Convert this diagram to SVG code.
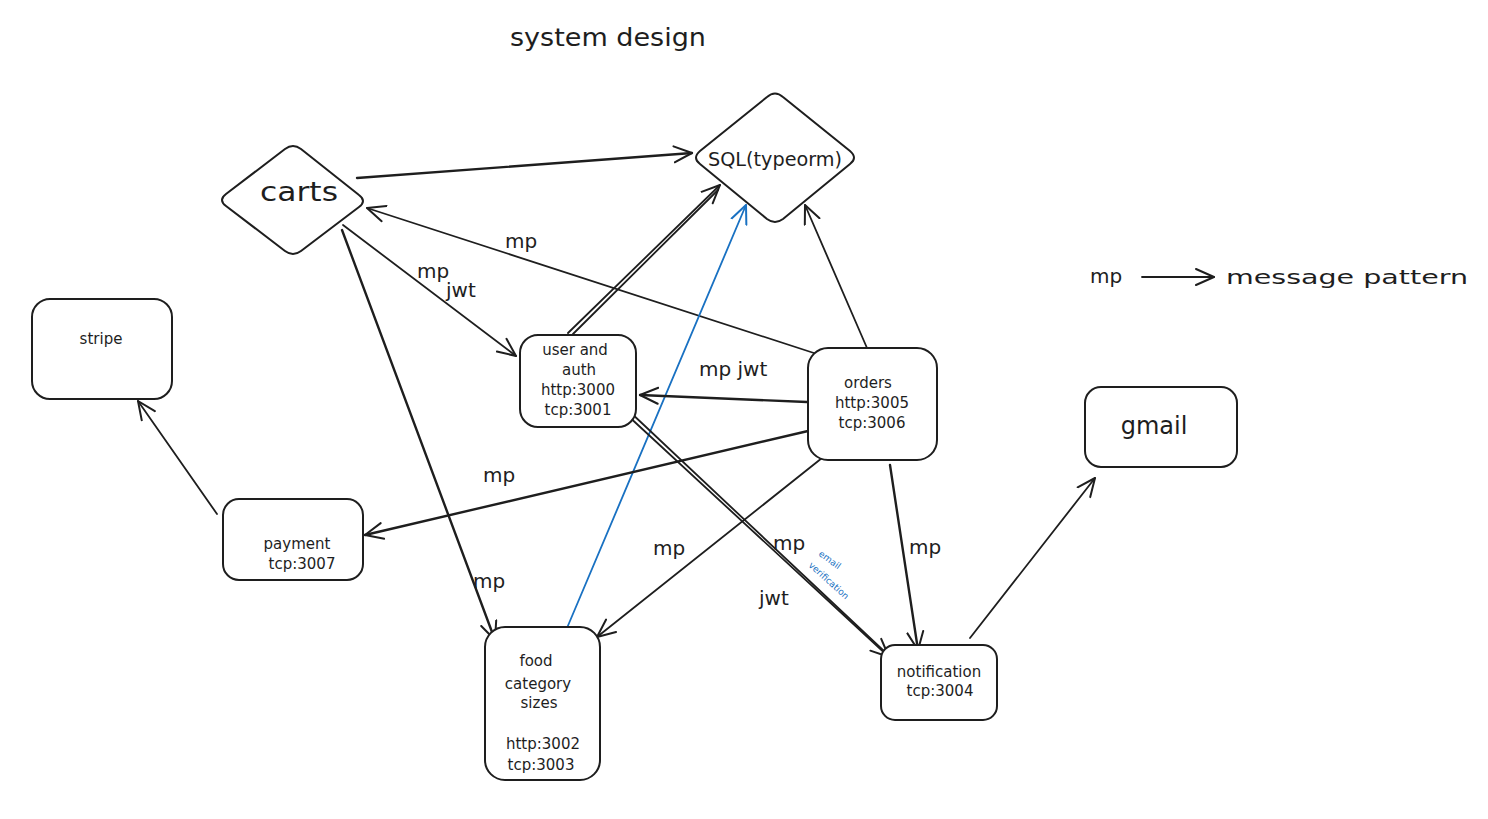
<svg xmlns="http://www.w3.org/2000/svg" width="1488" height="819" viewBox="0 0 1488 819">
<style>
  .box { fill: #ffffff; stroke: #1e1e1e; stroke-width: 2; }
  .t { font-family: "DejaVu Sans", "Noto Sans", sans-serif; fill: #1e1e1e; text-anchor: middle; }
  .n { font-size: 15px; }
  .lbl { font-family: "DejaVu Sans", "Noto Sans", sans-serif; fill: #1e1e1e; font-size: 20px; }
  .c { stroke: #1e1e1e; stroke-width: 1.8; fill: none; stroke-linecap: round; }
  .thick { stroke-width: 2.4; }
  .blue { stroke: #1971c2; }
  .note { font-family: "DejaVu Sans", "Noto Sans", sans-serif; font-size: 9px; fill: #1971c2; }
</style>
<defs>
  <marker id="ah" viewBox="0 0 20 20" refX="19" refY="10" markerWidth="20" markerHeight="20" markerUnits="userSpaceOnUse" orient="auto">
    <path d="M1,2 L19,10 L1,18" fill="none" stroke="#1e1e1e" stroke-width="2" stroke-linecap="round" stroke-linejoin="round"/>
  </marker>
  <marker id="ahb" viewBox="0 0 20 20" refX="19" refY="10" markerWidth="20" markerHeight="20" markerUnits="userSpaceOnUse" orient="auto">
    <path d="M1,2 L19,10 L1,18" fill="none" stroke="#1971c2" stroke-width="2" stroke-linecap="round" stroke-linejoin="round"/>
  </marker>
</defs>
<rect x="0" y="0" width="1488" height="819" fill="#ffffff"/>

<text class="t" x="608" y="46" font-size="25" textLength="196" lengthAdjust="spacingAndGlyphs">system design</text>

<g id="connectors">
  <line class="c thick" x1="357" y1="178" x2="692" y2="153" marker-end="url(#ah)"/>
  <line class="c" x1="820" y1="355" x2="367" y2="208" marker-end="url(#ah)"/>
  <line class="c" x1="343" y1="225" x2="516" y2="356" marker-end="url(#ah)"/>
  <line class="c thick" x1="342" y1="230" x2="495" y2="640" marker-end="url(#ah)"/>
  <line class="c" x1="568" y1="333" x2="720" y2="185" marker-end="url(#ah)"/>
  <line class="c" x1="573" y1="334" x2="718" y2="190"/>
  <line class="c blue" x1="567" y1="628" x2="746" y2="205" marker-end="url(#ahb)"/>
  <line class="c" x1="867" y1="348" x2="805" y2="205" marker-end="url(#ah)"/>
  <line class="c thick" x1="807" y1="402" x2="640" y2="395" marker-end="url(#ah)"/>
  <line class="c thick" x1="808" y1="431" x2="365" y2="535" marker-end="url(#ah)"/>
  <line class="c" x1="822" y1="458" x2="597" y2="637" marker-end="url(#ah)"/>
  <line class="c" x1="625" y1="413" x2="889" y2="657" marker-end="url(#ah)"/>
  <line class="c" x1="629" y1="411" x2="885" y2="652"/>
  <line class="c thick" x1="890" y1="465" x2="918" y2="650" marker-end="url(#ah)"/>
  <line class="c" x1="217" y1="514" x2="138" y2="401" marker-end="url(#ah)"/>
  <line class="c" x1="970" y1="638" x2="1095" y2="478" marker-end="url(#ah)"/>
  <line class="c" x1="1142" y1="277" x2="1214" y2="277" marker-end="url(#ah)"/>

  <text class="lbl" x="505" y="248">mp</text>
  <text class="lbl" x="417" y="278">mp</text>
  <text class="lbl" x="446" y="297">jwt</text>
  <text class="lbl" x="473" y="588">mp</text>
  <text class="lbl" x="699" y="376">mp jwt</text>
  <text class="lbl" x="483" y="482">mp</text>
  <text class="lbl" x="653" y="555">mp</text>
  <text class="lbl" x="773" y="550">mp</text>
  <text class="lbl" x="759" y="605">jwt</text>
  <text class="lbl" x="909" y="554">mp</text>
  <text class="note" x="818" y="555" transform="rotate(36 818 555)">email</text>
  <text class="note" x="808" y="566" transform="rotate(42 808 566)">verification</text>
</g>

<g id="legend">
  <text class="lbl" x="1090" y="283">mp</text>
  <text class="lbl" x="1226" y="284" font-size="26" textLength="242" lengthAdjust="spacingAndGlyphs">message pattern</text>
</g>

<g id="carts">
  <path class="box" d="M226,194 L285,149 Q293,143 301,149 L359,195 Q367,201 359,207 L301,251 Q293,257 285,251 L226,206 Q218,200 226,194 Z"/>
  <text class="t" x="299" y="201" font-size="27" textLength="78" lengthAdjust="spacingAndGlyphs">carts</text>
</g>

<g id="sql">
  <path class="box" d="M700,151 L767,97 Q775,90 783,97 L850,151 Q858,158 850,164 L783,219 Q775,225 767,219 L700,164 Q692,158 700,151 Z"/>
  <text class="t" x="775" y="166" font-size="19" textLength="134" lengthAdjust="spacingAndGlyphs">SQL(typeorm)</text>
</g>

<g id="stripe">
  <rect class="box" x="32" y="299" width="140" height="100" rx="18"/>
  <text class="t" x="101" y="344" font-size="15">stripe</text>
</g>

<g id="payment">
  <rect class="box" x="223" y="499" width="140" height="81" rx="16"/>
  <text class="t n" x="297" y="549">payment</text>
  <text class="t n" x="302" y="569">tcp:3007</text>
</g>

<g id="user-auth">
  <rect class="box" x="520" y="335" width="116" height="92" rx="18"/>
  <text class="t n" x="575" y="355">user and</text>
  <text class="t n" x="579" y="375">auth</text>
  <text class="t n" x="578" y="395">http:3000</text>
  <text class="t n" x="578" y="415">tcp:3001</text>
</g>

<g id="orders">
  <rect class="box" x="808" y="348" width="129" height="112" rx="20"/>
  <text class="t n" x="868" y="388">orders</text>
  <text class="t n" x="872" y="408">http:3005</text>
  <text class="t n" x="872" y="428">tcp:3006</text>
</g>

<g id="food">
  <rect class="box" x="485" y="627" width="115" height="153" rx="20"/>
  <text class="t n" x="536" y="666">food</text>
  <text class="t n" x="538" y="689">category</text>
  <text class="t n" x="539" y="708">sizes</text>
  <text class="t n" x="543" y="749">http:3002</text>
  <text class="t n" x="541" y="770">tcp:3003</text>
</g>

<g id="notification">
  <rect class="box" x="881" y="645" width="116" height="75" rx="14"/>
  <text class="t n" x="939" y="677">notification</text>
  <text class="t n" x="940" y="696">tcp:3004</text>
</g>

<g id="gmail">
  <rect class="box" x="1085" y="387" width="152" height="80" rx="16"/>
  <text class="t" x="1154" y="434" font-size="24">gmail</text>
</g>
</svg>
